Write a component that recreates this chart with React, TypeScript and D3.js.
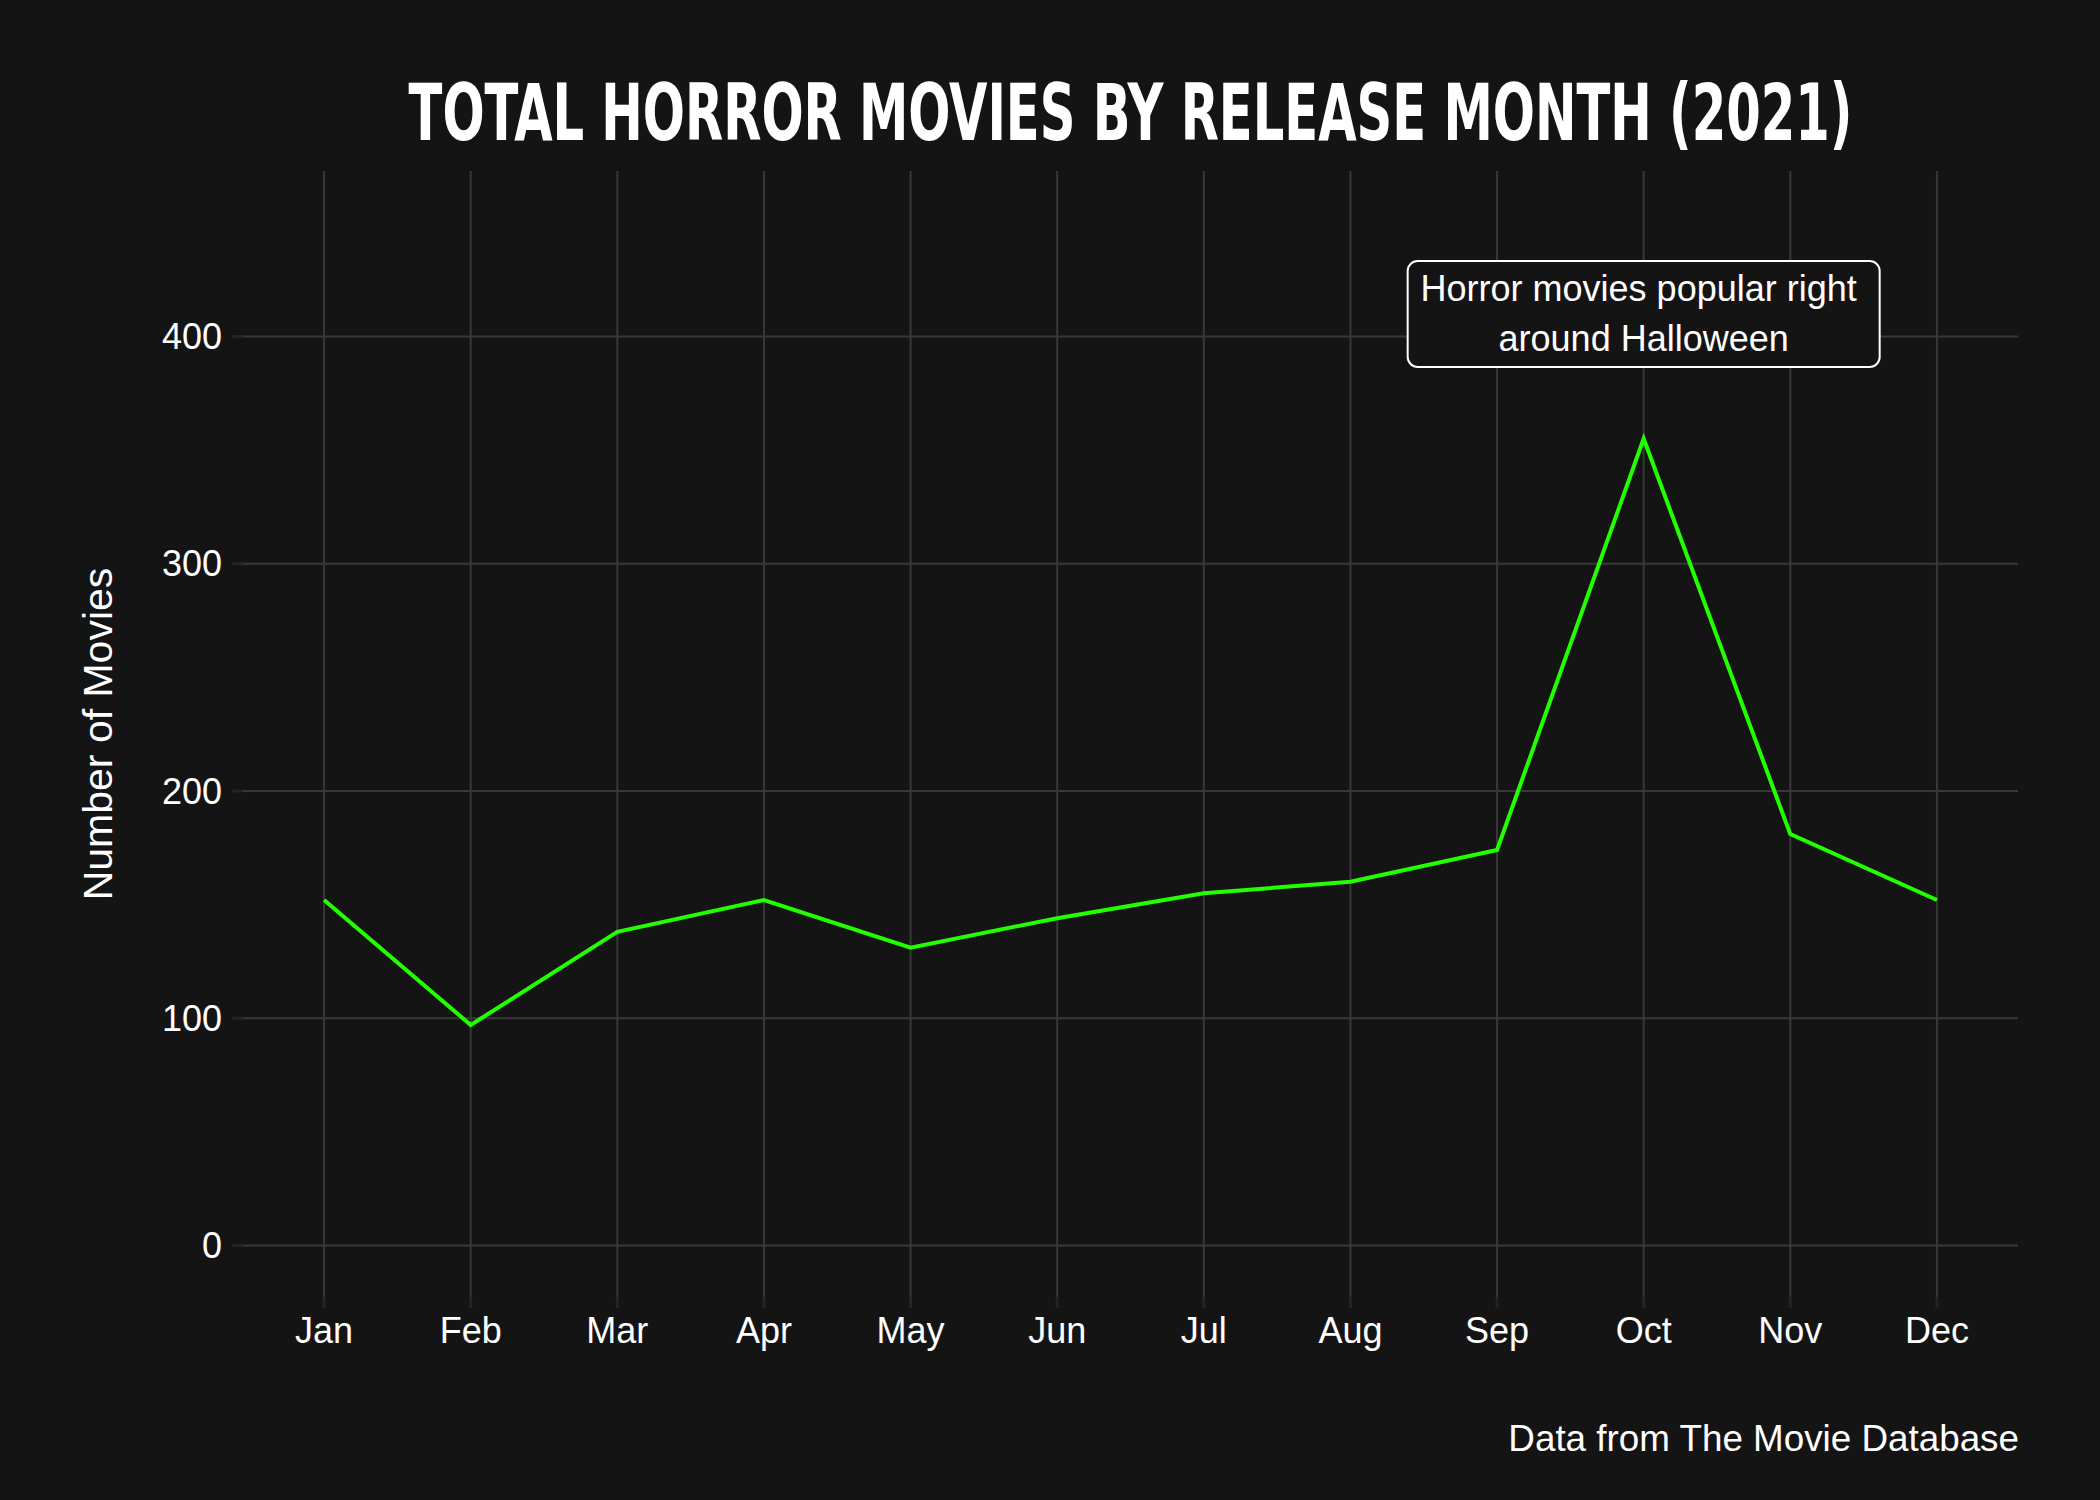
import React, { useLayoutEffect, useRef, useState } from "react";
import * as d3 from "d3";

const months = ["Jan", "Feb", "Mar", "Apr", "May", "Jun", "Jul", "Aug", "Sep", "Oct", "Nov", "Dec"];
const movieCounts = [152, 97, 138, 152, 131, 144, 155, 160, 174, 355, 181, 152];
const yTicks = [0, 100, 200, 300, 400];
const titleText = "TOTAL HORROR MOVIES BY RELEASE MONTH (2021)";
const yTitle = "Number of Movies";
const captionText = "Data from The Movie Database";
const annotationLines = ["Horror movies popular right ", "around Halloween"];
const annotationMonth = "Oct";

const W = 2100;
const H = 1500;
const BG = "#141414";
const GRID = "#383838";
const TICK = "#242424";
const GREEN = "#22ff00";
const FONT = "'Liberation Sans', Arial, Helvetica, sans-serif";

export default function App() {
  const left = 243, right = 2018, top = 171, bottom = 1297;
  const x = d3.scaleLinear().domain([-0.553, months.length - 1 + 0.553]).range([left, right]);
  const y = d3.scaleLinear().domain([-22.7, 472.8]).range([bottom, top]);

  const line = d3
    .line<number>()
    .x((_, i) => x(i))
    .y((d) => y(d));

  const annIdx = months.indexOf(annotationMonth);
  const annX = x(annIdx);
  const boxW = 472;
  const boxTop = 261;
  const boxH = 106;

  const titleRef = useRef<SVGTextElement>(null);
  const [titleScale, setTitleScale] = useState(1);
  const titleTargetW = 1444;
  const titleCx = (left + right) / 2;

  useLayoutEffect(() => {
    if (titleRef.current) {
      const w = titleRef.current.getComputedTextLength();
      if (w > 0) setTitleScale(titleTargetW / w);
    }
  }, []);

  return (
    <svg
      width={W}
      height={H}
      viewBox={`0 0 ${W} ${H}`}
      style={{ position: "absolute", left: 0, top: 0, display: "block" }}
    >
      <rect x={0} y={0} width={W} height={H} fill={BG} />

      {/* horizontal grid + y ticks */}
      {yTicks.map((t) => (
        <g key={"y" + t}>
          <line x1={left} x2={right} y1={y(t)} y2={y(t)} stroke={GRID} strokeWidth={2} />
          <line x1={232} x2={left} y1={y(t)} y2={y(t)} stroke={TICK} strokeWidth={3} />
          <text
            x={222}
            y={y(t)}
            dy="0.35em"
            textAnchor="end"
            fill="#ffffff"
            fontFamily={FONT}
            fontSize={36}
          >
            {t}
          </text>
        </g>
      ))}

      {/* vertical grid + x ticks */}
      {months.map((m, i) => (
        <g key={m}>
          <line x1={x(i)} x2={x(i)} y1={top} y2={bottom} stroke={GRID} strokeWidth={2} />
          <line x1={x(i)} x2={x(i)} y1={bottom} y2={1308} stroke={TICK} strokeWidth={3} />
          <text
            x={x(i)}
            y={1343}
            textAnchor="middle"
            fill="#ffffff"
            fontFamily={FONT}
            fontSize={36}
          >
            {m}
          </text>
        </g>
      ))}

      {/* data line */}
      <path
        d={line(movieCounts) || ""}
        fill="none"
        stroke={GREEN}
        strokeWidth={4}
        strokeLinejoin="miter"
      />

      {/* annotation */}
      <rect
        x={annX - boxW / 2}
        y={boxTop}
        width={boxW}
        height={boxH}
        rx={10}
        ry={10}
        fill={BG}
        stroke="#ffffff"
        strokeWidth={2}
      />
      {annotationLines.map((l, i) => (
        <text
          key={i}
          x={annX}
          y={301 + i * 50}
          textAnchor="middle"
          fill="#ffffff"
          fontFamily={FONT}
          fontSize={36}
          style={{ whiteSpace: "pre" }}
        >
          {l}
        </text>
      ))}

      {/* y title */}
      <text
        transform={`translate(112,${(top + bottom) / 2}) rotate(-90)`}
        textAnchor="middle"
        fill="#ffffff"
        fontFamily={FONT}
        fontSize={41}
      >
        {yTitle}
      </text>

      {/* title */}
      <g transform={`translate(${titleCx},140) scale(${titleScale},1)`}>
        <text
          ref={titleRef}
          x={0}
          y={0}
          textAnchor="middle"
          fill="#ffffff"
          fontFamily="'DejaVu Sans Condensed', 'DejaVu Sans', sans-serif"
          fontWeight="bold"
          fontSize={78}
        >
          {titleText}
        </text>
      </g>

      {/* caption */}
      <text
        x={2019}
        y={1451}
        textAnchor="end"
        fill="#ffffff"
        fontFamily={FONT}
        fontSize={36.8}
      >
        {captionText}
      </text>
    </svg>
  );
}
